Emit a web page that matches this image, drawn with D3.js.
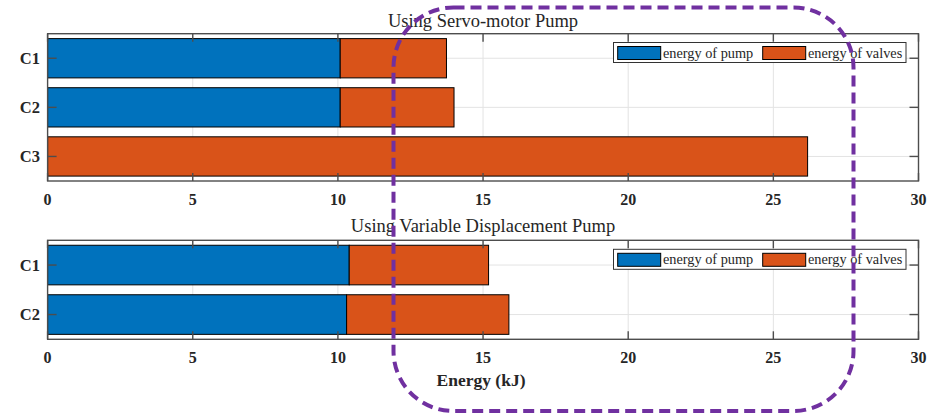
<!DOCTYPE html>
<html>
<head>
<meta charset="utf-8">
<script src="https://cdn.jsdelivr.net/npm/d3@7/dist/d3.min.js"></script>
<style>
  html, body { margin: 0; padding: 0; background: #fff; }
  svg { display: block; }
  text { font-family: "Liberation Serif", "Times New Roman", serif; fill: #262626; }
</style>
</head>
<body>
<svg id="chart" width="937" height="416"></svg>
<script>
// Energy per configuration, stacked: pump + valves (kJ)
const categoriesServo = ["C1", "C2", "C3"];
const pumpServo = [10.08, 10.08, 0];
const valvesServo = [3.66, 3.92, 26.18];

const categoriesVariable = ["C1", "C2"];
const pumpVariable = [10.39, 10.30];
const valvesVariable = [4.80, 5.59];

const xTicks = [0, 5, 10, 15, 20, 25, 30];
const seriesNames = ["energy of pump", "energy of valves"];
const seriesColors = ["#0072BD", "#D95319"];

const titles = ["Using Servo-motor Pump", "Using Variable Displacement Pump"];
const xLabel = "Energy (kJ)";

const svg = d3.select("#chart");

const x = d3.scaleLinear().domain([0, 30]).range([47.6, 918.5]);

function drawPanel(cfg) {
  const { cats, pump, valves, top, bottom, title, titleY, legendY } = cfg;
  const g = svg.append("g");
  const y = d3.scaleLinear().domain([0.5, cats.length + 0.5]).range([top, bottom]);
  const unit = Math.abs(y(1) - y(0));
  const barH = unit * 0.8;

  // grid
  g.append("g").selectAll("line.vx").data(xTicks.slice(1, -1)).join("line")
    .attr("x1", d => x(d)).attr("x2", d => x(d))
    .attr("y1", top).attr("y2", bottom)
    .attr("stroke", "#e3e3e3").attr("stroke-width", 1);
  g.append("g").selectAll("line.hy").data(cats).join("line")
    .attr("x1", x(0)).attr("x2", x(30))
    .attr("y1", (d, i) => y(i + 1)).attr("y2", (d, i) => y(i + 1))
    .attr("stroke", "#e3e3e3").attr("stroke-width", 1);

  // stacked bars
  const rows = cats.map((c, i) => ({ c, i, p: pump[i], v: valves[i] }));
  const bars = g.append("g");
  bars.selectAll("rect.pump").data(rows.filter(r => r.p > 0)).join("rect")
    .attr("x", d => x(0)).attr("width", d => x(d.p) - x(0))
    .attr("y", d => y(d.i + 1) - barH / 2).attr("height", barH)
    .attr("fill", seriesColors[0]).attr("stroke", "#000").attr("stroke-width", 1);
  bars.selectAll("rect.valves").data(rows).join("rect")
    .attr("x", d => x(d.p)).attr("width", d => x(d.p + d.v) - x(d.p))
    .attr("y", d => y(d.i + 1) - barH / 2).attr("height", barH)
    .attr("fill", seriesColors[1]).attr("stroke", "#000").attr("stroke-width", 1);

  // box with inward ticks on all four sides
  const frame = g.append("g").attr("stroke", "#4d4d4d").attr("stroke-width", 1.4).attr("fill", "none");
  frame.append("rect").attr("x", x(0)).attr("y", top).attr("width", x(30) - x(0)).attr("height", bottom - top);
  xTicks.forEach(t => {
    frame.append("line").attr("x1", x(t)).attr("x2", x(t)).attr("y1", bottom).attr("y2", bottom - 8);
    frame.append("line").attr("x1", x(t)).attr("x2", x(t)).attr("y1", top).attr("y2", top + 8);
  });
  cats.forEach((c, i) => {
    frame.append("line").attr("x1", x(0)).attr("x2", x(0) + 9).attr("y1", y(i + 1)).attr("y2", y(i + 1));
    frame.append("line").attr("x1", x(30)).attr("x2", x(30) - 9).attr("y1", y(i + 1)).attr("y2", y(i + 1));
  });

  // tick labels
  g.append("g").selectAll("text").data(xTicks).join("text")
    .attr("x", d => x(d)).attr("y", bottom + 23.5)
    .attr("text-anchor", "middle").attr("font-weight", "bold").attr("font-size", 16)
    .text(d => d);
  g.append("g").selectAll("text").data(cats).join("text")
    .attr("x", 40).attr("y", (d, i) => y(i + 1) + 5.5)
    .attr("text-anchor", "end").attr("font-weight", "bold").attr("font-size", 16.5)
    .text(d => d);

  // title
  g.append("text").attr("x", 483).attr("y", titleY)
    .attr("text-anchor", "middle").attr("font-size", 18.5).text(title);

  // legend
  const lg = g.append("g");
  lg.append("rect").attr("x", 613.5).attr("y", legendY).attr("width", 292.5).attr("height", 20)
    .attr("fill", "#fff").attr("stroke", "#333").attr("stroke-width", 1);
  const items = [{ sx: 617.7, tx: 663 }, { sx: 762.7, tx: 808 }];
  items.forEach((it, k) => {
    lg.append("rect").attr("x", it.sx).attr("y", legendY + 4).attr("width", 43).attr("height", 13)
      .attr("fill", seriesColors[k]).attr("stroke", "#000").attr("stroke-width", 1);
    lg.append("text").attr("x", it.tx).attr("y", legendY + 15)
      .attr("font-size", 14.3).text(seriesNames[k]);
  });
}

drawPanel({ cats: categoriesServo, pump: pumpServo, valves: valvesServo,
  top: 33.7, bottom: 181, title: titles[0], titleY: 26.5, legendY: 42.5 });
drawPanel({ cats: categoriesVariable, pump: pumpVariable, valves: valvesVariable,
  top: 240.3, bottom: 339.3, title: titles[1], titleY: 232, legendY: 249.3 });

// x axis title
svg.append("text").attr("x", 481).attr("y", 385.5)
  .attr("text-anchor", "middle").attr("font-weight", "bold").attr("font-size", 17.5)
  .text(xLabel);

// highlight frame around the 12–28 kJ range
svg.append("rect")
  .attr("x", 393.5).attr("y", 7.5).attr("width", 460).attr("height", 403.5)
  .attr("rx", 60).attr("ry", 60)
  .attr("fill", "none").attr("stroke", "#7030A0").attr("stroke-width", 4)
  .attr("stroke-dasharray", "11 6");
</script>
</body>
</html>
